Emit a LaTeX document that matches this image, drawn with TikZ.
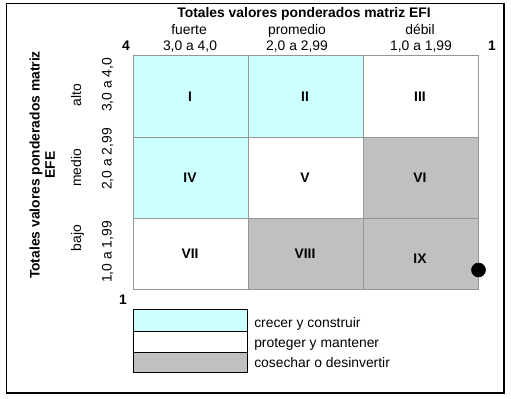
\documentclass[tikz,border=0pt]{standalone}
\usepackage{fontspec}
\setmainfont{Liberation Sans}
\usepackage{tikz}

\begin{document}
\begin{tikzpicture}[x=0.75pt,y=0.75pt,yscale=-1,xscale=1,
  font=\fontsize{10.4}{12.5}\selectfont,
  celda/.style={draw={rgb, 255:red, 150; green, 150; blue, 150 }, line width=0.75pt},
  leyenda/.style={draw={rgb, 255:red, 0; green, 0; blue, 0 }, line width=0.75pt},
  txt/.style={inner sep=0.75pt, anchor=base},
  num/.style={inner sep=0.75pt, font=\fontsize{10.4}{12.5}\selectfont\bfseries}]
\useasboundingbox (0,0) rectangle (511,399);

%Shape: Rectangle (frame)
\draw  [line width=1.1pt] (6.5,3.5) rectangle (504,393) ;

%Shape: Rectangle (cells, row alto)
\draw  [celda, fill={rgb, 255:red, 204; green, 255; blue, 255 }] (133,56) rectangle (248,137.5) ;
\draw  [celda, fill={rgb, 255:red, 204; green, 255; blue, 255 }] (248,56) rectangle (363,137.5) ;
\draw  [celda, fill=white] (363,56) rectangle (478,137.5) ;
%Shape: Rectangle (cells, row medio)
\draw  [celda, fill={rgb, 255:red, 204; green, 255; blue, 255 }] (133,137.5) rectangle (248,219) ;
\draw  [celda, fill=white] (248,137.5) rectangle (363,219) ;
\draw  [celda, fill={rgb, 255:red, 192; green, 192; blue, 192 }] (363,137.5) rectangle (478,219) ;
%Shape: Rectangle (cells, row bajo)
\draw  [celda, fill=white] (133,219) rectangle (248,290) ;
\draw  [celda, fill={rgb, 255:red, 192; green, 192; blue, 192 }] (248,219) rectangle (363,290) ;
\draw  [celda, fill={rgb, 255:red, 192; green, 192; blue, 192 }] (363,219) rectangle (478,290) ;

% Text Node
\draw (190,96.5) node (cI) [num] {I};
\draw (305,96.5) node (cII) [num] {II};
\draw (420,96.5) node (cIII) [num] {III};
\draw (190,178) node (cIV) [num] {IV};
\draw (305,178) node (cV) [num] {V};
\draw (420,178) node (cVI) [num] {VI};
\draw (190,253.5) node (cVII) [num] {VII};
\draw (305,253.5) node (cVIII) [num] {VIII};
\draw (420,258.5) node (cIX) [num] {IX};

%Shape: Circle
\draw  [fill=black] (478.5,270) circle [radius=7] ;

% Text Node (top)
\draw (304,18) node (efi) [txt, font=\fontsize{10.4}{12.5}\selectfont\bfseries] {Totales valores ponderados matriz EFI};
\draw (189,34.5) node (fuerte) [txt] {fuerte};
\draw (297,34.5) node (promedio) [txt] {promedio};
\draw (420,34.5) node (debil) [txt] {débil};
\draw (190,51) node (r1) [txt] {3,0 a 4,0};
\draw (297,51) node (r2) [txt] {2,0 a 2,99};
\draw (421,51) node (r3) [txt] {1,0 a 1,99};
\draw (126,51) node (cuatro) [txt, font=\fontsize{10.4}{12.5}\selectfont\bfseries] {4};
\draw (492,51) node (uno) [txt, font=\fontsize{10.4}{12.5}\selectfont\bfseries] {1};
\draw (123,305) node (unoabajo) [txt, font=\fontsize{10.4}{12.5}\selectfont\bfseries] {1};

% Text Node (left, rotated)
\draw (39.5,165) node (efe1) [txt, rotate=90, font=\fontsize{10.4}{12.5}\selectfont\bfseries] {Totales valores ponderados matriz};
\draw (55,165) node (efe2) [txt, rotate=90, font=\fontsize{10.4}{12.5}\selectfont\bfseries] {EFE};
\draw (81,95) node (alto) [txt, rotate=90] {alto};
\draw (81,168) node (medio) [txt, rotate=90] {medio};
\draw (81,238) node (bajo) [txt, rotate=90] {bajo};
\draw (111.5,85) node (s1) [txt, rotate=90] {3,0 a 4,0};
\draw (111.5,159) node (s2) [txt, rotate=90] {2,0 a 2,99};
\draw (111.5,252) node (s3) [txt, rotate=90] {1,0 a 1,99};

%Shape: Rectangle (legend)
\draw  [leyenda, fill={rgb, 255:red, 204; green, 255; blue, 255 }] (133,310) rectangle (247,331) ;
\draw  [leyenda, fill=white] (133,331) rectangle (247,352) ;
\draw  [leyenda, fill={rgb, 255:red, 192; green, 192; blue, 192 }] (133,352) rectangle (247,372) ;
\draw (253,327.5) node (crecer) [txt, anchor=base west] {crecer y construir};
\draw (253,348) node (proteger) [txt, anchor=base west] {proteger y mantener};
\draw (253,368) node (cosechar) [txt, anchor=base west] {cosechar o desinvertir};

\end{tikzpicture}
\end{document}
